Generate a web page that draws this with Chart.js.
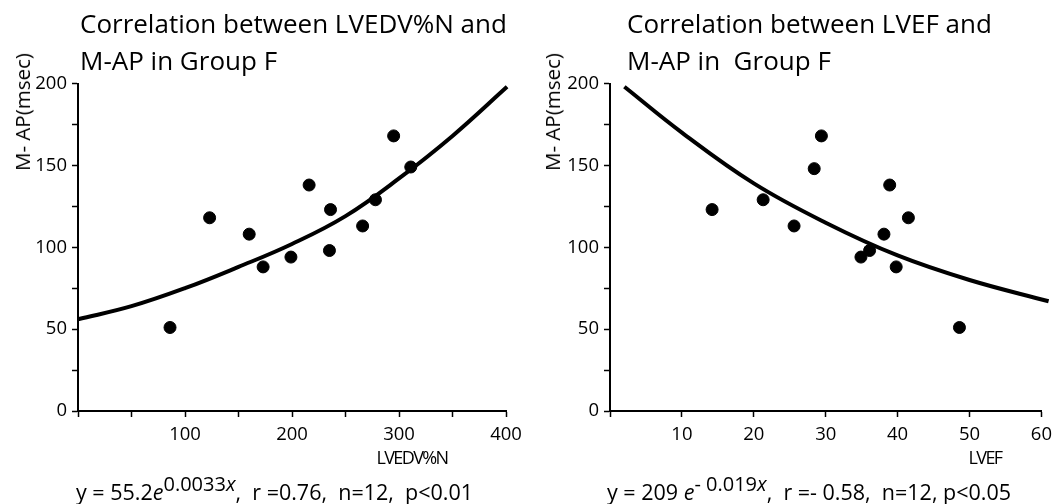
<!DOCTYPE html>
<html>
<head>
<meta charset="utf-8">
<script src="https://cdn.jsdelivr.net/npm/chart.js@4/dist/chart.umd.min.js"></script>
<style>
  html, body { margin: 0; padding: 0; background: #fff; }
  body { width: 1059px; height: 504px; position: relative; overflow: hidden; font-family: "Open Sans", sans-serif; color: #000; }
  .wrap { position: absolute; top: 0; height: 504px; }
  .title { position: absolute; font-size: 26px; line-height: 37px; white-space: nowrap; }
  .ytitle { position: absolute; font-size: 20.5px; white-space: nowrap; transform: translate(-50%, -50%) rotate(-90deg); }
  .xtitle { position: absolute; font-size: 18px; letter-spacing: -1.6px; white-space: nowrap; transform: translate(-50%, -50%); }
  .formula { position: absolute; font-size: 21.5px; white-space: nowrap; }
  .formula sup { font-size: 20px; vertical-align: 9px; line-height: 0; }
</style>
</head>
<body>
<div class="wrap" style="left:0;width:530px"><canvas id="left"></canvas></div>
<div class="wrap" style="left:530px;width:529px"><canvas id="right"></canvas></div>

<div class="title" style="left:80px;top:5px">Correlation between LVEDV%N and<br>M-AP in Group F</div>
<div class="title" style="left:627px;top:5px">Correlation between LVEF and<br>M-AP in&nbsp; Group F</div>
<div class="ytitle" style="left:22px;top:112px">M- AP(msec)</div>
<div class="ytitle" style="left:552px;top:112px">M- AP(msec)</div>
<div class="xtitle" style="left:412px;top:457px">LVEDV%N</div>
<div class="xtitle" style="left:985px;top:457px">LVEF</div>
<div class="formula" style="left:76px;top:477px">y = 55.2<i>e</i><sup>0.0033<i>x</i></sup>,&nbsp; r =0.76,&nbsp; n=12,&nbsp; p&lt;0.01</div>
<div class="formula" style="left:607px;top:477px">y = 209 <i>e</i><sup>- 0.019<i>x</i></sup>,&nbsp; r =- 0.58,&nbsp; n=12, p&lt;0.05</div>

<script>
// M-AP vs LVEDV%N, Group F
const lvedvX = [86, 123, 160, 173, 199, 216, 236, 235, 266, 278, 295, 311];
const lvedvY = [51, 118, 108, 88, 94, 138, 123, 98, 113, 129, 168, 149];
// fitted curve
const lvedvFitX = [0, 50, 100, 150, 200, 250, 300, 350, 401];
const lvedvFitY = [56, 64, 75, 88, 102, 119, 142, 168, 198];

// M-AP vs LVEF, Group F
const lvefX = [14.2, 21.3, 25.6, 28.4, 29.4, 34.9, 36.1, 38.1, 38.9, 39.8, 41.5, 48.6];
const lvefY = [123, 129, 113, 148, 168, 94, 98, 108, 138, 88, 118, 51];
const lvefFitX = [2, 10, 20, 30, 40, 50, 61];
const lvefFitY = [198, 170, 139, 115, 95, 80, 67];

const yTickLabels = [0, 50, 100, 150, 200];
const lvedvTickLabels = [100, 200, 300, 400];
const lvefTickLabels = [10, 20, 30, 40, 50, 60];

const FONT = '"Open Sans", sans-serif';

function toPoints(xs, ys) {
  return xs.map((x, i) => ({ x, y: ys[i] }));
}

function makeChart(id, opts) {
  const ctx = document.getElementById(id).getContext('2d');
  return new Chart(ctx, {
    type: 'scatter',
    data: {
      datasets: [
        {
          data: toPoints(opts.px, opts.py),
          backgroundColor: '#000',
          borderColor: '#000',
          pointRadius: 6,
          pointHoverRadius: 6,
        },
        {
          type: 'line',
          data: toPoints(opts.fx, opts.fy),
          borderColor: '#000',
          borderWidth: 4,
          pointRadius: 0,
          tension: 0.4,
          fill: false,
          clip: false,
        },
      ],
    },
    options: {
      responsive: true,
      maintainAspectRatio: false,
      animation: false,
      events: [],
      layout: { padding: { left: 0, top: 83.5, right: opts.padRight, bottom: 0 } },
      plugins: { legend: { display: false }, tooltip: { enabled: false } },
      scales: {
        x: {
          type: 'linear',
          min: 0,
          max: opts.xMax,
          afterFit(s) { s.height = 93; },
          afterBuildTicks(s) {
            s.ticks = [];
            for (let v = 0; v <= opts.xMax; v += opts.xStep) s.ticks.push({ value: v });
          },
          ticks: {
            color: '#000',
            font: { family: FONT, size: 18.5 },
            padding: 7,
            maxRotation: 0,
            autoSkip: false,
            callback: (v) => (opts.xLabels.includes(v) ? String(v) : ''),
          },
          grid: { drawOnChartArea: false, drawTicks: true, tickLength: 6, tickColor: '#000', tickWidth: 1.5 },
          border: { display: true, color: '#000', width: 2 },
        },
        y: {
          min: 0,
          max: 200,
          afterFit(s) { s.width = opts.yWidth; },
          afterBuildTicks(s) {
            s.ticks = [];
            for (let v = 0; v <= 200; v += 25) s.ticks.push({ value: v });
          },
          ticks: {
            color: '#000',
            font: { family: FONT, size: 18.5 },
            padding: 5,
            autoSkip: false,
            callback: (v) => (yTickLabels.includes(v) ? String(v) : ''),
          },
          grid: { drawOnChartArea: false, drawTicks: true, tickLength: 6, tickColor: '#000', tickWidth: 1.5 },
          border: { display: true, color: '#000', width: 2 },
        },
      },
    },
  });
}

makeChart('left', {
  px: lvedvX, py: lvedvY, fx: lvedvFitX, fy: lvedvFitY,
  xMax: 400, xStep: 50, xLabels: lvedvTickLabels, yWidth: 78, padRight: 24,
});

makeChart('right', {
  px: lvefX, py: lvefY, fx: lvefFitX, fy: lvefFitY,
  xMax: 60, xStep: 10, xLabels: lvefTickLabels, yWidth: 80, padRight: 15.7,
});
</script>
</body>
</html>
